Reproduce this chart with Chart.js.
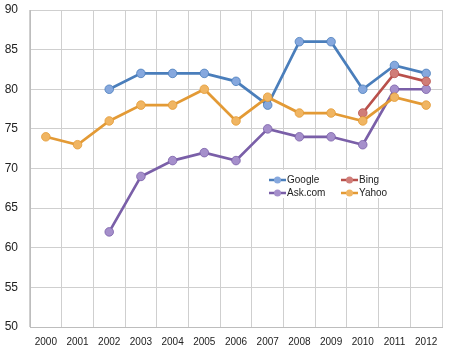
<!DOCTYPE html>
<html>
<head>
<meta charset="utf-8">
<script src="https://cdn.jsdelivr.net/npm/chart.js@4/dist/chart.umd.min.js"></script>
<style>
  html, body { margin: 0; padding: 0; background: #fff; }
  #wrap { width: 450px; height: 352px; }
</style>
</head>
<body>
<div id="wrap"><canvas id="chart" width="450" height="352"></canvas></div>
<script>
const years = ['2000', '2001', '2002', '2003', '2004', '2005', '2006', '2007', '2008', '2009', '2010', '2011', '2012'];
const google = [null, null, 80, 82, 82, 82, 81, 78, 86, 86, 80, 83, 82];
const bing = [null, null, null, null, null, null, null, null, null, null, 77, 82, 81];
const ask = [null, null, 62, 69, 71, 72, 71, 75, 74, 74, 73, 80, 80];
const yahoo = [74, 73, 76, 78, 78, 80, 76, 79, 77, 77, 76, 79, 78];

const FONT = 'Arial, "Liberation Sans", sans-serif';

function series(label, data, line, fill, order) {
    return {
        label: label,
        data: data,
        borderColor: line,
        backgroundColor: fill,
        pointBackgroundColor: fill,
        pointBorderColor: line,
        pointBorderWidth: 0.8,
        pointRadius: 4.3,
        borderWidth: 2.7,
        tension: 0,
        spanGaps: false,
        order: order
    };
}

const datasets = [
    series('Google', google, '#4a7ebb', '#86a8de', 3),
    series('Bing', bing, '#b9504b', '#d07d78', 1),
    series('Ask.com', ask, '#7a5fa8', '#a58fcb', 2),
    series('Yahoo', yahoo, '#e39a35', '#f0b562', 0)
];

// legend drawn inside the plot, in two columns like the original
const insideLegend = {
    id: 'insideLegend',
    afterDraw(chart) {
        const ctx = chart.ctx;
        ctx.save();
        ctx.fillStyle = '#fff';
        ctx.fillRect(256, 170, 148, 28);
        const spots = [[269, 180], [341, 180], [269, 193], [341, 193]];
        ctx.font = '10px ' + FONT;
        ctx.textBaseline = 'middle';
        datasets.forEach((ds, i) => {
            const [x, y] = spots[i];
            ctx.strokeStyle = ds.borderColor;
            ctx.lineWidth = 2.5;
            ctx.beginPath();
            ctx.moveTo(x, y);
            ctx.lineTo(x + 17, y);
            ctx.stroke();
            ctx.fillStyle = ds.pointBackgroundColor;
            ctx.beginPath();
            ctx.arc(x + 8.5, y, 3.5, 0, Math.PI * 2);
            ctx.fill();
            ctx.fillStyle = '#222';
            ctx.fillText(ds.label, x + 18, y + 0.5);
        });
        ctx.restore();
    }
};

new Chart(document.getElementById('chart'), {
    type: 'line',
    data: { labels: years, datasets: datasets },
    options: {
        responsive: false,
        animation: false,
        layout: { padding: { top: 10, right: 8, left: 0, bottom: 0 } },
        plugins: {
            legend: { display: false },
            tooltip: { enabled: false }
        },
        scales: {
            x: {
                offset: true,
                grid: { offset: true, color: '#cfcfcf', drawTicks: false },
                border: { color: '#bdbdbd' },
                ticks: { color: '#222', font: { family: FONT, size: 10 }, padding: 9, maxRotation: 0, autoSkip: false },
                afterFit(scale) {
                    scale.height = 25;
                    scale.paddingLeft = 0;
                    scale.paddingRight = 0;
                }
            },
            y: {
                min: 50,
                max: 90,
                grid: { color: '#cfcfcf', drawTicks: false },
                border: { color: '#bdbdbd' },
                ticks: { stepSize: 5, color: '#222', font: { family: FONT, size: 12 }, padding: 12 },
                afterFit(scale) {
                    scale.width = 30;
                    scale.paddingTop = 0;
                    scale.paddingBottom = 0;
                }
            }
        }
    },
    plugins: [insideLegend]
});
</script>
</body>
</html>
